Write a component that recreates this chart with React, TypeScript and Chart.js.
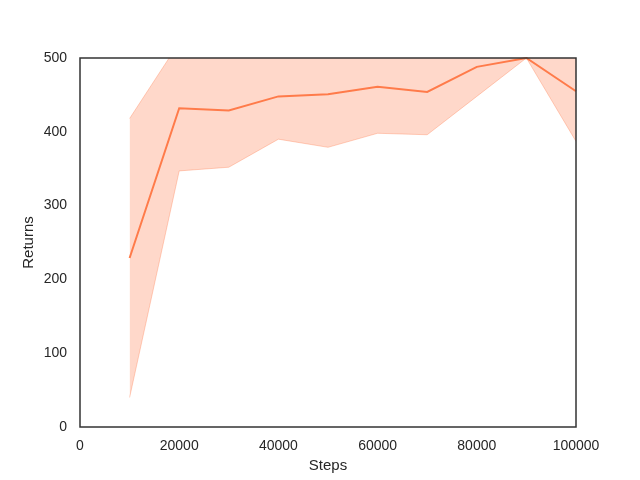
import React, { useEffect, useRef } from "react";
import { Chart, registerables } from "chart.js";

Chart.register(...registerables);

const steps = [10000, 20000, 30000, 40000, 50000, 60000, 70000, 80000, 90000, 100000];
const meanReturns = [229, 432, 429, 448, 451, 461, 454, 488, 500, 455];
const lowerReturns = [40, 347, 352, 390, 379, 398, 396, 448, 500, 387];
const upperReturns = [418, 521, 506, 506, 523, 524, 512, 528, 500, 523];
const xTicks = [0, 20000, 40000, 60000, 80000, 100000];
const yTicks = [0, 100, 200, 300, 400, 500];

const LINE = "rgb(255,122,72)";
const FILL = "rgba(255,127,80,0.3)";
const EDGE = "rgba(255,127,80,0.35)";
const TEXT = "#262626";
const FONT = "'Liberation Sans', Arial, sans-serif";

const boxPlugin = {
  id: "box",
  afterDraw(chart: any) {
    const { ctx, chartArea } = chart;
    ctx.save();
    ctx.strokeStyle = "#333333";
    ctx.lineWidth = 1.5;
    ctx.strokeRect(chartArea.left, chartArea.top, chartArea.right - chartArea.left, chartArea.bottom - chartArea.top);
    ctx.restore();
  },
};

export default function App() {
  const ref = useRef<HTMLCanvasElement | null>(null);
  useEffect(() => {
    if (!ref.current) return;
    const pts = (arr: number[]) => steps.map((s, i) => ({ x: s, y: arr[i] }));
    const chart = new Chart(ref.current, {
      type: "line",
      data: {
        datasets: [
          {
            data: pts(upperReturns),
            borderColor: EDGE,
            borderWidth: 1,
            backgroundColor: FILL,
            fill: "+1",
            pointRadius: 0,
            tension: 0,
            clip: 0,
          },
          {
            data: pts(lowerReturns),
            borderColor: EDGE,
            borderWidth: 1,
            backgroundColor: FILL,
            fill: false,
            pointRadius: 0,
            tension: 0,
            clip: 0,
          },
          {
            data: pts(meanReturns),
            borderColor: LINE,
            borderWidth: 2,
            fill: false,
            pointRadius: 0,
            tension: 0,
            clip: 1,
          },
        ],
      } as any,
      options: {
        animation: false,
        responsive: false,
        maintainAspectRatio: false,
        layout: { padding: { left: 0, right: 64, top: 58, bottom: 0 } },
        plugins: { legend: { display: false }, tooltip: { enabled: false } },
        scales: {
          x: {
            type: "linear",
            min: 0,
            max: 100000,
            afterFit: (s: any) => { s.height = 53; },
            afterBuildTicks: (s: any) => { s.ticks = xTicks.map((v) => ({ value: v })); },
            grid: { display: false, drawTicks: false },
            border: { display: false },
            ticks: {
              color: TEXT,
              font: { family: FONT, size: 14 },
              padding: 11,
              maxRotation: 0,
              callback: (v: any) => String(v),
            },
            title: {
              display: true,
              text: "Steps",
              color: TEXT,
              font: { family: FONT, size: 15 },
              padding: { top: 0, bottom: 5 },
            },
          },
          y: {
            type: "linear",
            min: 0,
            max: 500,
            afterFit: (s: any) => { s.width = 80; },
            afterBuildTicks: (s: any) => { s.ticks = yTicks.map((v) => ({ value: v })); },
            grid: { display: false, drawTicks: false },
            border: { display: false },
            ticks: {
              color: TEXT,
              font: { family: FONT, size: 14 },
              padding: 13,
              callback: (v: any) => String(v),
            },
            title: {
              display: true,
              text: "Returns",
              color: TEXT,
              font: { family: FONT, size: 15 },
              padding: { top: 20, bottom: 0 },
            },
          },
        },
      } as any,
      plugins: [boxPlugin],
    });
    return () => chart.destroy();
  }, []);
  return (
    <div style={{ position: "fixed", left: 0, top: 0, width: 640, height: 480, background: "#fff" }}>
      <canvas ref={ref} width={640} height={480} style={{ width: 640, height: 480 }} />
    </div>
  );
}
